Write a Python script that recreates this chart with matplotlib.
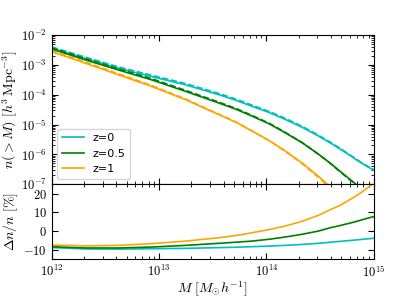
import numpy as np
import matplotlib
matplotlib.use("Agg")
import matplotlib.pyplot as plt
from matplotlib.ticker import LogLocator

plt.rcParams['font.family'] = 'serif'
plt.rcParams['font.serif'] = ['cmr10']
plt.rcParams['mathtext.fontset'] = 'cm'
plt.rcParams['axes.formatter.use_mathtext'] = True
plt.rcParams['axes.unicode_minus'] = True

labels = ["z=0", "z=0.5", "z=1"]
colors = ["c", "green", "orange"]

# log10 M, shared by both panels
logm = [12.0, 12.31, 12.62, 12.93, 13.25, 13.56, 13.72, 13.87, 14.03, 14.18,
        14.34, 14.49, 14.6, 14.68, 14.8, 14.87, 14.93, 15.0]
# log10 n(>M) (upper panel, solid lines)
logn_z0 = [-2.44, -2.78, -3.11, -3.39, -3.67, -4.0, -4.19, -4.39, -4.6, -4.83,
           -5.1, -5.39, -5.62, -5.8, -6.08, -6.25, -6.38, -6.52]
logn_z05 = [-2.47, -2.83, -3.17, -3.5, -3.89, -4.28, -4.49, -4.72, -4.98, -5.28,
            -5.62, -6.0, -6.3, -6.54, -6.89, -7.1, -7.3, -7.5]
logn_z1 = [-2.56, -2.94, -3.33, -3.72, -4.17, -4.67, -4.93, -5.22, -5.54, -5.89,
           -6.3, -6.74, -7.1, -7.38, -7.8, -8.05, -8.3, -8.55]

# relative difference in percent (lower panel)
dn_z0 = [-8.9, -9.6, -9.7, -9.5, -9.3, -8.9, -8.7, -8.4, -8.1, -7.7,
         -7.2, -6.6, -6.0, -5.6, -5.0, -4.6, -4.3, -3.9]
dn_z05 = [-8.4, -9.1, -9.1, -8.6, -7.7, -6.6, -6.0, -5.4, -4.4, -3.2,
          -1.7, 0.0, 1.8, 2.8, 4.5, 5.6, 6.6, 7.7]
dn_z1 = [-7.5, -8.0, -7.7, -6.8, -5.4, -3.6, -2.4, -0.9, 0.8, 2.7,
         5.3, 8.5, 11.5, 13.5, 17.5, 20.0, 22.5, 25.5]

top_n = [logn_z0, logn_z05, logn_z1]
bot_d = [dn_z0, dn_z05, dn_z1]

fig = plt.figure(figsize=(4.15, 2.97), dpi=100)
gs = fig.add_gridspec(2, 1, height_ratios=[2, 1], hspace=0,
                      left=0.125, right=0.9, top=0.882, bottom=0.128)
ax1 = fig.add_subplot(gs[0])
ax2 = fig.add_subplot(gs[1], sharex=ax1)

m = 10 ** np.array(logm)
for n, d, lab, col in zip(top_n, bot_d, labels, colors):
    n = 10 ** np.array(n)
    d = np.array(d)
    ax1.plot(m, n, color=col, lw=1.2, label=lab)
    ax1.plot(m, n / (1 + d / 100), color=col, lw=1.2, ls="--")
    ax2.plot(m, d, color=col, lw=1.2)

ax1.set_xscale("log")
ax1.set_yscale("log")
ax1.set_xlim(1e12, 1e15)
ax1.set_ylim(1e-7, 1e-2)
ax1.yaxis.set_major_locator(LogLocator(base=10, numticks=12))
ax1.yaxis.set_minor_locator(LogLocator(base=10, subs=np.arange(2, 10), numticks=12))
ax2.set_ylim(-15, 25)
ax2.set_yticks([-10, 0, 10, 20])

for ax in (ax1, ax2):
    ax.tick_params(which="both", direction="in", top=True, right=True, labelsize=9)
    ax.tick_params(which="major", length=4)
    ax.tick_params(which="minor", length=2)
plt.setp(ax1.get_xticklabels(), visible=False)

ax1.set_ylabel(r"$n(>M)\ [h^3\,\mathrm{Mpc}^{-3}]$", fontsize=10, labelpad=1)
ax2.set_ylabel(r"$\Delta n/n\ [\%]$", fontsize=10, labelpad=1)
ax2.set_xlabel(r"$M\ [M_{\odot}h^{-1}]$", fontsize=10, labelpad=0)
ax1.legend(loc="lower left", prop={"family": "DejaVu Sans", "size": 8})
fig.align_ylabels([ax1, ax2])

fig.savefig("out.png", dpi=100)
